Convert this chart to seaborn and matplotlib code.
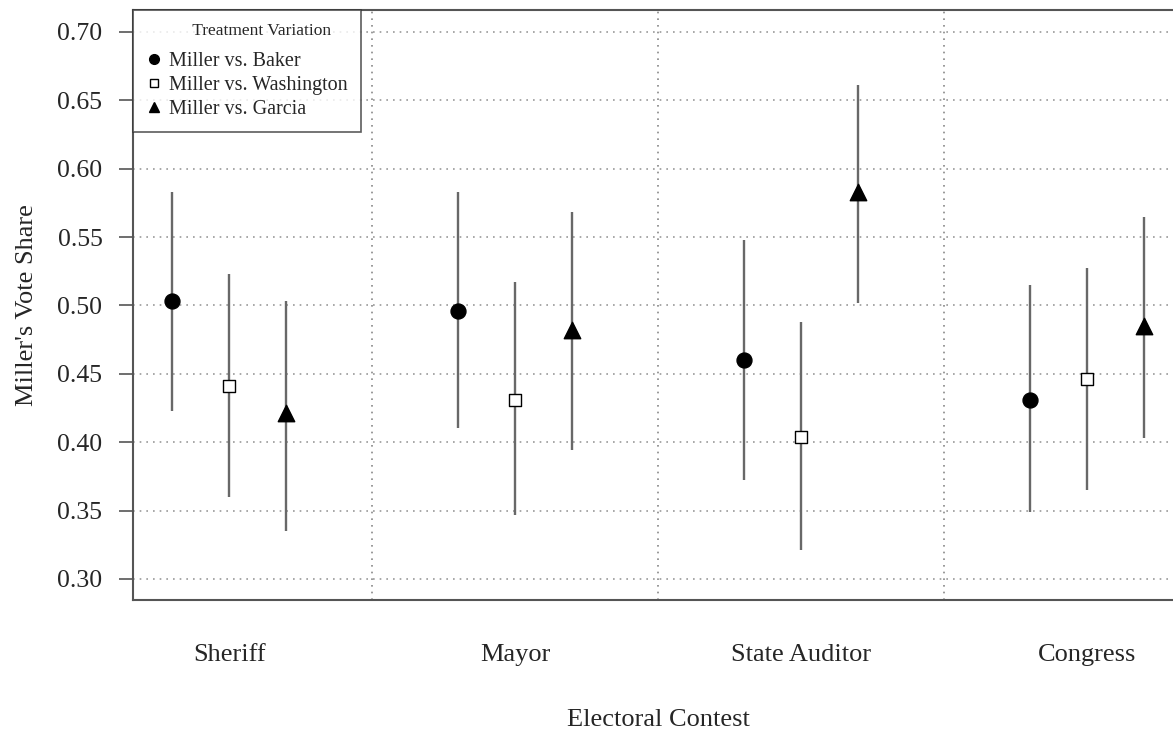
import numpy as np
import pandas as pd
import matplotlib.pyplot as plt
from matplotlib.lines import Line2D
import seaborn as sns

sns.set_style("white")
plt.rcParams['font.family'] = ['Liberation Serif', 'DejaVu Serif']

# Estimated vote shares with 95% intervals
contests = ["Sheriff", "Mayor", "State Auditor", "Congress"]
treatments = ["Miller vs. Baker", "Miller vs. Washington", "Miller vs. Garcia"]

baker_mean = [0.503, 0.496, 0.460, 0.431]
baker_lo = [0.423, 0.410, 0.372, 0.349]
baker_hi = [0.583, 0.583, 0.548, 0.515]

washington_mean = [0.441, 0.431, 0.404, 0.446]
washington_lo = [0.360, 0.347, 0.321, 0.365]
washington_hi = [0.523, 0.517, 0.488, 0.527]

garcia_mean = [0.421, 0.482, 0.583, 0.485]
garcia_lo = [0.335, 0.394, 0.502, 0.403]
garcia_hi = [0.503, 0.568, 0.661, 0.565]

yticks = [0.30, 0.35, 0.40, 0.45, 0.50, 0.55, 0.60, 0.65, 0.70]

rows = []
for t, m, lo, hi in zip(treatments,
                        [baker_mean, washington_mean, garcia_mean],
                        [baker_lo, washington_lo, garcia_lo],
                        [baker_hi, washington_hi, garcia_hi]):
    for i, c in enumerate(contests):
        rows.append({"contest": c, "treatment": t, "share": m[i],
                     "lo": lo[i], "hi": hi[i]})
df = pd.DataFrame(rows)

offsets = {treatments[0]: -0.2, treatments[1]: 0.0, treatments[2]: 0.2}
df["x"] = df["contest"].map({c: i + 1 for i, c in enumerate(contests)}) + df["treatment"].map(offsets)

styles = {
    treatments[0]: dict(marker="o", s=115, facecolor="black", edgecolor="black"),
    treatments[1]: dict(marker="s", s=75, facecolor="white", edgecolor="black"),
    treatments[2]: dict(marker="^", s=140, facecolor="black", edgecolor="black"),
}

fig = plt.figure(figsize=(11.73, 7.32), dpi=100)
ax = fig.add_axes([133 / 1173, 1 - 600 / 732, 1050 / 1173, 590 / 732])

# confidence intervals
ax.vlines(df["x"], df["lo"], df["hi"], color="#686868", linewidth=1.7, zorder=2)

for t in treatments:
    sub = df[df["treatment"] == t]
    sns.scatterplot(data=sub, x="x", y="share", ax=ax, linewidth=1.0,
                    zorder=3, legend=False, **styles[t])

ax.set_xlim(0.664, 4.336)
ax.set_ylim(0.2846, 0.716)
ax.set_yticks(yticks)
ax.set_yticklabels([f"{v:.2f}" for v in yticks], fontsize=18.5)
ax.set_xticks(range(1, len(contests) + 1))
ax.set_xticklabels(contests, fontsize=19)
ax.tick_params(axis="x", length=0, pad=32)
ax.tick_params(axis="y", length=10, width=1.2, color="#555555", pad=12, left=True)

# dotted grid
for v in yticks:
    ax.axhline(v, color="#999999", linestyle=(0, (1, 3)), linewidth=1.2, zorder=1)
for v in [1.5, 2.5, 3.5]:
    ax.axvline(v, color="#888888", linestyle=(0, (1, 3)), linewidth=1.2, zorder=1)

for sp in ax.spines.values():
    sp.set_color("#555555")
    sp.set_linewidth(1.5)

ax.set_xlabel("Electoral Contest", fontsize=19, labelpad=31)
ax.set_ylabel("Miller's Vote Share", fontsize=19, labelpad=14)

handles = [
    Line2D([], [], marker="o", color="black", linestyle="none", markersize=7),
    Line2D([], [], marker="s", markerfacecolor="white", markeredgecolor="black",
           linestyle="none", markersize=6),
    Line2D([], [], marker="^", color="black", linestyle="none", markersize=7),
]
leg = ax.legend(handles, treatments, title="       Treatment Variation", loc="upper left",
                bbox_to_anchor=(0, 1), borderaxespad=0, fontsize=14.5,
                title_fontsize=12.5, frameon=True, fancybox=False,
                handletextpad=0.35, handlelength=0.8, labelspacing=0.25,
                borderpad=0.65)
leg._legend_box.sep = 9
leg.get_frame().set_edgecolor("#333333")
leg.get_frame().set_linewidth(1.2)

fig.savefig("out.png", dpi=100)
